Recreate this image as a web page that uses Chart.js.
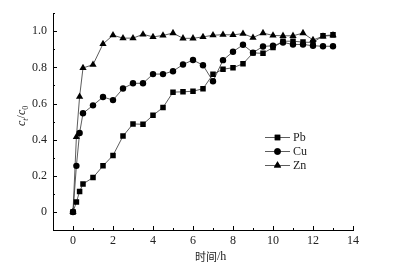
<!DOCTYPE html>
<html>
<head>
<meta charset="utf-8">
<script src="https://cdn.jsdelivr.net/npm/chart.js@4/dist/chart.umd.min.js"></script>
<style>
  html, body { margin: 0; padding: 0; background: #fff; }
  #wrap { width: 399px; height: 272px; }
</style>
</head>
<body>
<div id="wrap"><canvas id="c"></canvas></div>
<script>
// time points (h)
const TIMES = [0, 0.17, 0.33, 0.5, 1, 1.5, 2, 2.5, 3, 3.5, 4, 4.5, 5, 5.5, 6, 6.5,
  7, 7.5, 8, 8.5, 9, 9.5, 10, 10.5, 11, 11.5, 12, 12.5, 13];

// ct/c0 per metal
const PB = [0, 0.055, 0.113, 0.155, 0.19, 0.255, 0.313, 0.42, 0.487, 0.485, 0.535, 0.578,
  0.663, 0.665, 0.668, 0.682, 0.762, 0.79, 0.798, 0.82, 0.88, 0.878, 0.91, 0.945, 0.945,
  0.94, 0.938, 0.975, 0.98];
const CU = [0, 0.255, 0.437, 0.546, 0.59, 0.636, 0.619, 0.683, 0.712, 0.712, 0.763, 0.763,
  0.779, 0.816, 0.841, 0.812, 0.723, 0.84, 0.887, 0.925, 0.882, 0.916, 0.92, 0.938, 0.927,
  0.927, 0.92, 0.917, 0.917];
const ZN = [0, 0.415, 0.638, 0.797, 0.815, 0.93, 0.978, 0.962, 0.962, 0.983, 0.969, 0.977,
  0.99, 0.961, 0.961, 0.969, 0.978, 0.981, 0.98, 0.987, 0.965, 0.99, 0.977, 0.975, 0.975,
  0.99, 0.952, 0.972, 0.978];

const SERIES_NAMES = ['Pb', 'Cu', 'Zn'];
const X_LABELS = [0, 2, 4, 6, 8, 10, 12, 14];
const Y_LABELS = [0, 0.2, 0.4, 0.6, 0.8, 1.0];

const SERIF = '"Liberation Serif", "DejaVu Serif", serif';

function pts(ys) {
  return TIMES.map((t, i) => ({ x: t, y: ys[i] }));
}

function mkSet(label, ys, style, r) {
  return {
    label,
    data: pts(ys),
    showLine: true,
    borderColor: '#333',
    borderWidth: 0.8,
    backgroundColor: '#000',
    pointBackgroundColor: '#000',
    pointBorderColor: '#000',
    pointBorderWidth: 0,
    pointStyle: style,
    pointRadius: r,
    tension: 0
  };
}

// inward ticks, axis titles and the little legend box
const decorPlugin = {
  id: 'decor',
  afterDraw(chart) {
    const ctx = chart.ctx;
    const xs = chart.scales.x, ys = chart.scales.y;
    const area = chart.chartArea;
    ctx.save();
    ctx.strokeStyle = '#000';
    ctx.lineWidth = 1;
    ctx.beginPath();
    xs.ticks.forEach(t => {
      if (t.value <= xs.min) return;
      const px = Math.round(xs.getPixelForValue(t.value)) + 0.5;
      const len = X_LABELS.includes(t.value) ? 4 : 2;
      ctx.moveTo(px, area.bottom);
      ctx.lineTo(px, area.bottom - len);
    });
    ys.ticks.forEach(t => {
      if (t.value <= ys.min + 1e-6) return;
      const py = Math.round(ys.getPixelForValue(t.value)) + 0.5;
      const major = Y_LABELS.some(v => Math.abs(v - t.value) < 1e-6);
      const len = major ? 4 : 2;
      ctx.moveTo(area.left, py);
      ctx.lineTo(area.left + len, py);
    });
    ctx.stroke();

    // y title: ct/c0, rotated
    ctx.fillStyle = '#222';
    ctx.translate(25, 116);
    ctx.rotate(-Math.PI / 2);
    ctx.textBaseline = 'alphabetic';
    ctx.textAlign = 'left';
    let x = -10;
    const put = (s, font, dy) => {
      ctx.font = font;
      ctx.fillText(s, x, dy);
      x += ctx.measureText(s).width;
    };
    put('c', 'italic 12px ' + SERIF, 0);
    put('t', 'italic 8px ' + SERIF, 3);
    put('/', '12px ' + SERIF, 0);
    put('c', 'italic 12px ' + SERIF, 0);
    put('0', '8px ' + SERIF, 3);
    ctx.setTransform(1, 0, 0, 1, 0, 0);

    // x title
    ctx.textAlign = 'left';
    ctx.textBaseline = 'middle';
    ctx.font = '11px "Noto Sans CJK SC", sans-serif';
    ctx.fillText('时间', 195, 257);
    const w = ctx.measureText('时间').width;
    ctx.font = '12px ' + SERIF;
    ctx.fillText('/h', 195 + w, 257);

    // legend
    chart.data.datasets.forEach((ds, i) => {
      const ly = 137 + i * 14;
      ctx.strokeStyle = '#333';
      ctx.lineWidth = 0.8;
      ctx.beginPath();
      ctx.moveTo(265, ly + 0.5);
      ctx.lineTo(290, ly + 0.5);
      ctx.stroke();
      Chart.helpers.drawPoint(ctx, {
        pointStyle: ds.pointStyle, radius: ds.pointRadius, borderWidth: 0, rotation: 0
      }, 277.5, ly + 0.5);
      ctx.fillStyle = '#000';
      ctx.fill();
      ctx.fillStyle = '#222';
      ctx.font = '12px ' + SERIF;
      ctx.textBaseline = 'middle';
      ctx.fillText(SERIES_NAMES[i], 293, ly + 1);
    });
    ctx.restore();
  }
};

new Chart(document.getElementById('c'), {
  type: 'scatter',
  data: {
    datasets: [
      mkSet('Pb', PB, 'rect', 3.9),
      mkSet('Cu', CU, 'circle', 3.2),
      mkSet('Zn', ZN, 'triangle', 4.2)
    ]
  },
  options: {
    responsive: true,
    maintainAspectRatio: false,
    animation: false,
    events: [],
    layout: { padding: { top: 11, right: 46, left: 0, bottom: 0 } },
    plugins: {
      legend: { display: false },
      tooltip: { enabled: false }
    },
    scales: {
      x: {
        type: 'linear',
        min: -1,
        max: 14,
        grid: { display: false, drawTicks: false },
        border: { display: true, color: '#000', width: 1 },
        ticks: {
          stepSize: 1,
          autoSkip: false,
          maxRotation: 0,
          padding: 4,
          color: '#222',
          font: { family: SERIF, size: 12 },
          callback: (v) => X_LABELS.includes(v) ? String(v) : ''
        },
        afterFit: (s) => { s.height = 42; }
      },
      y: {
        type: 'linear',
        min: -0.1,
        max: 1.1,
        grid: { display: false, drawTicks: false },
        border: { display: true, color: '#000', width: 1 },
        ticks: {
          stepSize: 0.1,
          autoSkip: false,
          padding: 6,
          color: '#222',
          font: { family: SERIF, size: 12 },
          callback: (v) => {
            const hit = Y_LABELS.find(l => Math.abs(l - v) < 1e-6);
            if (hit === undefined) return '';
            return hit === 0 ? '0' : hit.toFixed(1);
          }
        },
        afterFit: (s) => { s.width = 53; }
      }
    }
  },
  plugins: [decorPlugin]
});
</script>
</body>
</html>
